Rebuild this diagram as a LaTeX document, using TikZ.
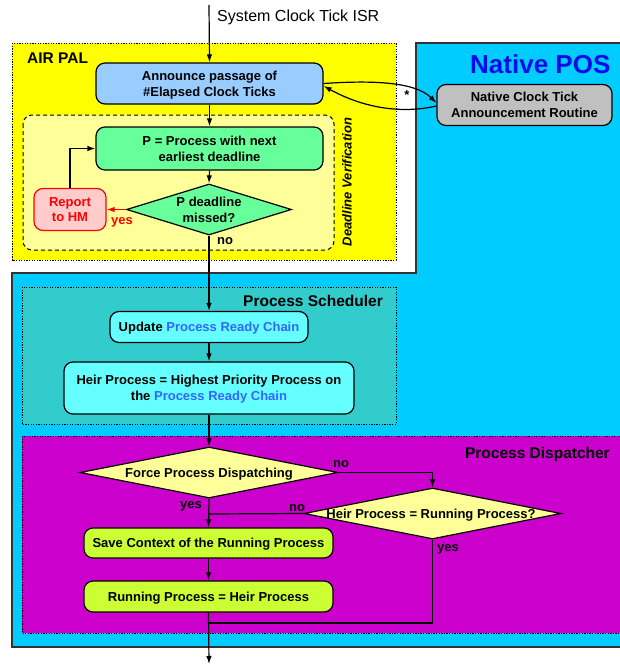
\documentclass[tikz,border=0pt]{standalone}
\usepackage{fontspec}
\setmainfont{Liberation Sans}
\usetikzlibrary{shapes.geometric,arrows.meta,calc}

\definecolor{palyellow}{HTML}{FFFF00}
\definecolor{dvyellow}{HTML}{FFFF99}
\definecolor{posblue}{HTML}{00CCFF}
\definecolor{annblue}{HTML}{99CCFF}
\definecolor{natgray}{HTML}{C0C0C0}
\definecolor{pgreen}{HTML}{66FF99}
\definecolor{hmpink}{HTML}{FFCCCC}
\definecolor{schedteal}{HTML}{33CCCC}
\definecolor{chaincyan}{HTML}{66FFFF}
\definecolor{chaintext}{HTML}{3366FF}
\definecolor{dispmag}{HTML}{CC00CC}
\definecolor{dispyellow}{HTML}{FFFF99}
\definecolor{lime}{HTML}{CCFF33}
\definecolor{postitle}{HTML}{0A0AEE}
\definecolor{edgegray}{HTML}{333333}

\newcommand{\boxfont}{\fontsize{13}{15.6}\selectfont\bfseries}
\newcommand{\titlefont}{\fontsize{15.5}{18}\selectfont\bfseries}
\newcommand{\chain}[1]{\textcolor{chaintext}{#1}}

\begin{document}
\begin{tikzpicture}[x=1pt,y=-1pt,
  procbox/.style={draw, line width=1.2pt, rounded corners=9pt, align=center,
    inner sep=0pt, text depth=0pt, font=\boxfont},
  decision/.style={draw, line width=1.2pt, diamond, inner sep=0pt},
  dectext/.style={align=center, font=\boxfont, inner sep=0pt, text depth=0pt},
  region/.style={draw=black, line width=1pt, dash pattern=on 1.3pt off 1.3pt},
  flow/.style={line width=1.2pt, -{Latex[length=8pt,width=5.5pt]}},
  plain/.style={line width=1.2pt},
  lbl/.style={font=\boxfont, inner sep=0pt},
  title/.style={font=\titlefont, inner sep=0pt}]

\useasboundingbox (0,0) rectangle (620,664);

% ---------------- Native POS area ----------------
\draw[fill=posblue, draw=edgegray, line width=1.5pt]
  (416,43) -- (630,43) -- (630,647) -- (12,647) -- (12,273) -- (416,273) -- cycle;
\node[anchor=base west, inner sep=0pt, text=postitle,
      font=\fontsize{26}{30}\selectfont\bfseries] (postitle) at (470,73) {Native POS};

% ---------------- AIR PAL area ----------------
\draw[region, fill=palyellow] (12,43) rectangle (396,260);
\node[title, anchor=base west] (paltitle) at (27,63.5) {AIR PAL};

\draw[fill=dvyellow, draw=black, line width=1pt, dash pattern=on 4pt off 3pt,
      rounded corners=9pt] (23,115) rectangle (334,250);
\node[rotate=90, inner sep=0pt, font=\fontsize{13}{15.6}\selectfont\bfseries\itshape]
  (dvtitle) at (347,182) {Deadline Verification};

% ---------------- Process Scheduler ----------------
\draw[region, fill=schedteal] (22,287) rectangle (396,424);
\node[title, anchor=base east] (schedtitle) at (383,306) {Process Scheduler};

% ---------------- Process Dispatcher ----------------
\draw[region, fill=dispmag] (22,436) rectangle (630,633);
\node[title, anchor=base east] (disptitle) at (610,458.5) {Process Dispatcher};

% ---------------- nodes ----------------
\node[anchor=base west, inner sep=0pt, font=\fontsize{16}{19}\selectfont] (isr)
  at (217,21) {System Clock Tick ISR};
\coordinate (isrtop) at (209,5);

\node[procbox, fill=annblue, minimum width=227pt, minimum height=41pt] (announce)
  at (209.5,83.5) {Announce passage of\\\#Elapsed Clock Ticks};
\node[procbox, fill=natgray, minimum width=175pt, minimum height=41pt] (native)
  at (524.5,105) {Native Clock Tick\\Announcement Routine};

\node[procbox, fill=pgreen, minimum width=227pt, minimum height=43pt] (pbox)
  at (209.5,148.5) {P = Process with next\\earliest deadline};
\node[decision, fill=pgreen, minimum width=165pt, minimum height=51pt] (pmiss)
  at (209,209.5) {};
\node[dectext] (pmisstext) at (209,210) {P deadline\\missed?};
\node[procbox, draw=red, fill=hmpink, text=red, minimum width=72pt,
      minimum height=42pt] (report) at (70,209.5) {Report\\to HM};

\node[procbox, fill=chaincyan, minimum width=198pt, minimum height=31pt] (update)
  at (209,327) {Update \chain{Process Ready Chain}};
\node[procbox, fill=chaincyan, minimum width=290pt, minimum height=52pt] (heir)
  at (209,388) {Heir Process = Highest Priority Process on\\the \chain{Process Ready Chain}};

\node[decision, fill=dispyellow, minimum width=258pt, minimum height=51pt] (force)
  at (209,472.5) {};
\node[dectext] (forcetext) at (209,472.5) {Force Process Dispatching};
\node[decision, fill=dispyellow, minimum width=257pt, minimum height=51pt] (same)
  at (432.5,513.5) {};
\node[dectext] (sametext) at (431,514) {Heir Process = Running Process?};

\node[procbox, fill=lime, minimum width=249pt, minimum height=30pt] (save)
  at (208.5,543) {Save Context of the Running Process};
\node[procbox, fill=lime, minimum width=249pt, minimum height=31pt] (run)
  at (208.5,596.5) {Running Process = Heir Process};

\coordinate (exit) at (209,664);
\coordinate (joinA) at (209,514);
\coordinate (joinB) at (209,623);

% ---------------- connectors ----------------
\draw[flow] (isrtop) -- (announce.north);
\draw[flow] (announce.south) -- (pbox.north);
\draw[flow] (pbox.south) -- (pmiss.north);
\draw[flow, draw=red, -{Latex[length=8pt,width=5.5pt,color=red]}] (pmiss.west) -- (report.east);
\node[lbl, anchor=base west, text=red] (yes1) at (111,224) {yes};
\draw[flow] (report.north) |- (pbox.west);
\draw[flow] (pmiss.south) -- (update.north);
\node[lbl, anchor=base west] (no1) at (217,244) {no};
\draw[flow] (update.south) -- (heir.north);
\draw[flow] (heir.south) -- (force.north);

\draw[flow] (force.east) -| (same.north);
\node[lbl, anchor=base west] (no2) at (333,467) {no};
\draw[flow] (force.south) -- (save.north);
\node[lbl, anchor=base east] (yes2) at (202,508) {yes};
\draw[plain] (same.west) -- (joinA);
\node[lbl, anchor=base west] (no3) at (289,511) {no};
\draw[flow] (save.south) -- (run.north);
\draw[plain] (same.south) |- (joinB);
\node[lbl, anchor=base west] (yes3) at (437,551) {yes};
\draw[flow] (run.south) -- (exit);

% clock tick announcement exchange with the native POS
\draw[flow] (announce.east) .. controls +(45,-3) and +(-22,-22) .. ([yshift=2pt]native.west);
\draw[flow] ([yshift=-1pt]native.west) .. controls +(-35,8) and +(40,22) .. ([yshift=-2.5pt]announce.east);
\node[lbl] (star) at (407,95) {*};

\end{tikzpicture}
\end{document}
